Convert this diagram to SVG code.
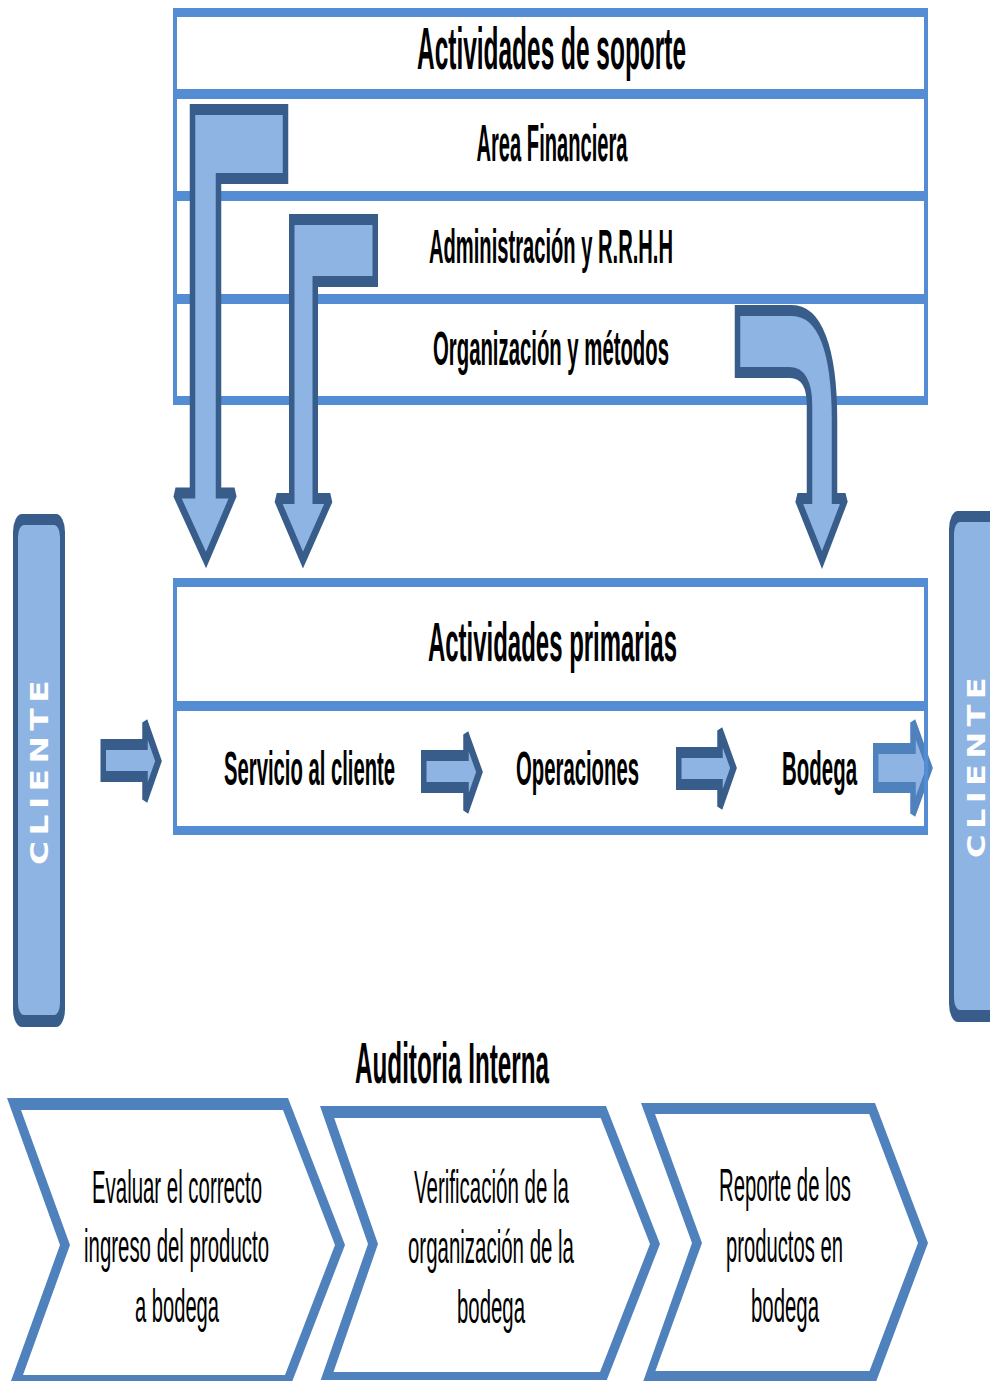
<svg xmlns="http://www.w3.org/2000/svg" width="990" height="1381" viewBox="0 0 990 1381">
<style>
.bar{fill:#548dd4}
.arr{fill:#8eb4e3;stroke:#385d8a;stroke-width:11;stroke-miterlimit:2}
.arr2{fill:#8eb4e3;stroke:#4f81bd;stroke-width:11;stroke-miterlimit:2}
.t{font-family:"Liberation Sans",Arial,sans-serif;font-weight:bold;fill:#000;text-anchor:middle}
.c{font-family:"Liberation Sans",Arial,sans-serif;fill:#000;text-anchor:middle;font-size:46px}
.chev{fill:#4f81bd;fill-rule:evenodd}
.cl{font-family:"DejaVu Sans",sans-serif;font-weight:bold;fill:#fff;text-anchor:middle;font-size:24px;letter-spacing:4px}
.side-out{fill:#385d8a}
.side-in{fill:#8eb4e3}
</style>
<rect width="990" height="1381" fill="#fff"/>

<!-- support activities table -->
<g id="soporte">
  <rect class="bar" x="173" y="8" width="755" height="9"/>
  <rect class="bar" x="173" y="89" width="755" height="10"/>
  <rect class="bar" x="173" y="191" width="755" height="10"/>
  <rect class="bar" x="173" y="294" width="755" height="10"/>
  <rect class="bar" x="173" y="396" width="755" height="9"/>
  <rect class="bar" x="173" y="8" width="4" height="397"/>
  <rect class="bar" x="924" y="8" width="4" height="397"/>
  <text class="t" x="551.5" y="69" font-size="60" textLength="269" lengthAdjust="spacingAndGlyphs">Actividades de soporte</text>
</g>
<g id="area-financiera">
  <text class="t" x="552" y="161" font-size="52" textLength="151" lengthAdjust="spacingAndGlyphs">Area Financiera</text>
</g>
<g id="administracion">
  <text class="t" x="551" y="263" font-size="49" textLength="244" lengthAdjust="spacingAndGlyphs">Administración y R.R.H.H</text>
</g>
<g id="organizacion">
  <text class="t" x="551" y="365" font-size="49" textLength="236" lengthAdjust="spacingAndGlyphs">Organización y métodos</text>
</g>

<!-- block arrows, drawn in a half-width frame -->
<g id="connectors" transform="scale(0.5,1)">
  <path class="arr" d="M385,109.5 L571,109.5 L571,178.5 L437,178.5 L437,493 L469,493 L412,560 L351,493 L385,493 Z"/>
  <path class="arr" d="M583.5,219.5 L750.5,219.5 L750.5,281.5 L630.5,281.5 L630.5,498.5 L660.5,498.5 L606,560 L553.5,498.5 L583.5,498.5 Z"/>
  <path class="arr" d="M1475,310.5 L1584,310.5 C1640,310.5 1669,350 1669,420 L1669,498.5 L1691,498.5 L1644,560 L1595,498.5 L1619,498.5 L1619,405 C1619,385 1606,372.5 1580,372.5 L1475,372.5 Z"/>
  <path class="arr" d="M206.5,744.5 L290,744.5 L290,722.5 L317,761 L290,799.5 L290,776.5 L206.5,776.5 Z"/>
  <path class="arr" d="M847.5,755.5 L932,755.5 L932,734.5 L959,772 L932,810.5 L932,787.5 L847.5,787.5 Z"/>
  <path class="arr" d="M1357.5,752.5 L1440,752.5 L1440,730.5 L1467,768 L1440,806.5 L1440,784.5 L1357.5,784.5 Z"/>
  <path class="arr2" d="M1751.5,748.5 L1826,748.5 L1826,722.5 L1859,768 L1826,813.5 L1826,787.5 L1751.5,787.5 Z"/>
</g>

<!-- primary activities table -->
<g id="primarias">
  <rect class="bar" x="173" y="578" width="755" height="9"/>
  <rect class="bar" x="173" y="701" width="755" height="10"/>
  <rect class="bar" x="173" y="826" width="755" height="9"/>
  <rect class="bar" x="173" y="578" width="4" height="257"/>
  <rect class="bar" x="924" y="578" width="4" height="257"/>
  <text class="t" x="552.5" y="661" font-size="56" textLength="249" lengthAdjust="spacingAndGlyphs">Actividades primarias</text>
</g>
<g id="servicio">
  <text class="t" x="309.5" y="785" font-size="48" textLength="171" lengthAdjust="spacingAndGlyphs">Servicio al cliente</text>
</g>
<g id="operaciones">
  <text class="t" x="577.5" y="785" font-size="48" textLength="123" lengthAdjust="spacingAndGlyphs">Operaciones</text>
</g>
<g id="bodega">
  <text class="t" x="819.5" y="785" font-size="48" textLength="75" lengthAdjust="spacingAndGlyphs">Bodega</text>
</g>

<!-- customer bars -->
<g id="cliente-izq">
  <rect class="side-out" x="13" y="514" width="52" height="513" rx="9" ry="18"/>
  <rect class="side-in" x="18" y="525" width="42" height="490" rx="6" ry="12"/>
  <text class="cl" transform="translate(48,770) rotate(-90)" textLength="190" lengthAdjust="spacingAndGlyphs">CLIENTE</text>
</g>
<g id="cliente-der">
  <rect class="side-out" x="949" y="511" width="70" height="511" rx="9" ry="18"/>
  <rect class="side-in" x="954" y="522" width="60" height="488" rx="6" ry="12"/>
  <text class="cl" transform="translate(985,765) rotate(-90)" textLength="186" lengthAdjust="spacingAndGlyphs">CLIENTE</text>
</g>

<!-- internal audit chain -->
<g id="auditoria">
  <text class="t" x="452" y="1083" font-size="58" textLength="194" lengthAdjust="spacingAndGlyphs">Auditoria Interna</text>
</g>
<g id="paso-1">
  <path class="chev" d="M7,1098 L288,1098 L345,1245 L292,1382 L10.6,1382 L60,1245 Z M21,1110 L70,1245 L23,1375 L285,1375 L335,1245 L283,1110 Z"/>
  <text class="c" x="177" y="1203" textLength="170" lengthAdjust="spacingAndGlyphs">Evaluar el correcto</text>
  <text class="c" x="176.5" y="1262" textLength="185" lengthAdjust="spacingAndGlyphs">ingreso del producto</text>
  <text class="c" x="177" y="1322" textLength="84" lengthAdjust="spacingAndGlyphs">a bodega</text>
</g>
<g id="paso-2">
  <path class="chev" d="M320,1106 L606,1106 L660,1244 L606.8,1380 L320.7,1380 L368,1244 Z M334.2,1118 L378,1244 L333.5,1372 L600,1372 L650,1244 L600.7,1118 Z"/>
  <text class="c" x="491.5" y="1203" textLength="155" lengthAdjust="spacingAndGlyphs">Verificación de la</text>
  <text class="c" x="491" y="1263" textLength="166" lengthAdjust="spacingAndGlyphs">organización de la</text>
  <text class="c" x="491" y="1323" textLength="68" lengthAdjust="spacingAndGlyphs">bodega</text>
</g>
<g id="paso-3">
  <path class="chev" d="M641,1103 L875,1103 L928,1243 L876,1382 L643,1382 L692,1243 Z M655,1114 L702,1243 L655.4,1371 L869.5,1371 L918,1243 L869.2,1114 Z"/>
  <text class="c" x="785" y="1201" textLength="132" lengthAdjust="spacingAndGlyphs">Reporte de los</text>
  <text class="c" x="784.5" y="1262" textLength="117" lengthAdjust="spacingAndGlyphs">productos en</text>
  <text class="c" x="785" y="1322" textLength="68" lengthAdjust="spacingAndGlyphs">bodega</text>
</g>
</svg>
